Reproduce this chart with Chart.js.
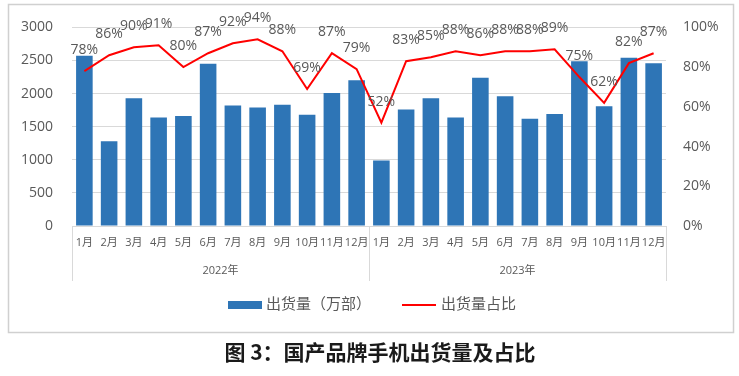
<!DOCTYPE html>
<html>
<head>
<meta charset="utf-8">
<script src="https://cdn.jsdelivr.net/npm/chart.js@4.4.1/dist/chart.umd.min.js"></script>
<style>
  body { margin: 0; background: #fff; }
  #wrap { width: 739px; height: 376px; }
</style>
</head>
<body>
<div id="wrap"><canvas id="shipChart" width="739" height="376"></canvas></div>
<script>
/* ---------- data ---------- */
const years = ['2022年', '2023年'];
const months = ['1月', '2月', '3月', '4月', '5月', '6月', '7月', '8月', '9月', '10月', '11月', '12月'];
// 出货量（万部）
const shipments = [2570, 1280, 1930, 1640, 1660, 2450, 1820, 1790, 1830, 1680, 2010, 2200,
                   990, 1760, 1930, 1640, 2240, 1960, 1620, 1690, 2490, 1810, 2540, 2460];
// 出货量占比 (%)
const shareValues = [78, 86, 90, 91, 80, 87, 92, 94, 88, 69, 87, 79,
                     52, 83, 85, 88, 86, 88, 88, 89, 75, 62, 82, 87];
const leftTicks = { min: 0, max: 3000, step: 500 };
const rightTicks = { min: 0, max: 100, step: 20 };
const legendNames = ['出货量（万部）', '出货量占比'];
const chartTitle = '图 3：国产品牌手机出货量及占比';

const labels = years.flatMap(() => months);

const GRAY_TEXT = '#595959';
const FONT = '"Open Sans", "Noto Sans CJK SC", sans-serif';
const BAR_BLUE = '#2E75B6';

/* ---------- extra drawing: labels, year groups, legend, title ---------- */
const decorations = {
    id: 'decorations',
    afterDatasetsDraw(chart) {
        const ctx = chart.ctx;
        const meta = chart.getDatasetMeta(1);
        ctx.save();
        ctx.font = '14px ' + FONT;
        ctx.fillStyle = GRAY_TEXT;
        ctx.textAlign = 'center';
        ctx.textBaseline = 'middle';
        meta.data.forEach((pt, i) => {
            ctx.fillText(shareValues[i] + '%', pt.x, pt.y - 21);
        });
        ctx.restore();
    },
    afterDraw(chart) {
        const ctx = chart.ctx;
        const area = chart.chartArea;
        const x = chart.scales.x;
        ctx.save();

        // outer frame
        ctx.strokeStyle = '#d0d0d0';
        ctx.lineWidth = 1.5;
        ctx.strokeRect(8.5, 4.5, 725, 328);

        // year group separators
        ctx.strokeStyle = '#d9d9d9';
        ctx.lineWidth = 1;
        const mid = (x.getPixelForValue(11) + x.getPixelForValue(12)) / 2;
        [area.left, mid, area.right].forEach(px => {
            ctx.beginPath();
            ctx.moveTo(Math.round(px) + 0.5, area.bottom);
            ctx.lineTo(Math.round(px) + 0.5, area.bottom + 55);
            ctx.stroke();
        });

        // year labels
        ctx.font = '11px ' + FONT;
        ctx.fillStyle = GRAY_TEXT;
        ctx.textAlign = 'center';
        ctx.textBaseline = 'middle';
        ctx.fillText(years[0], (area.left + mid) / 2, 271);
        ctx.fillText(years[1], (mid + area.right) / 2, 271);

        // legend
        const ly = 305;
        ctx.fillStyle = BAR_BLUE;
        ctx.fillRect(228, ly - 4, 34, 8);
        ctx.font = '15px ' + FONT;
        ctx.fillStyle = GRAY_TEXT;
        ctx.textAlign = 'left';
        ctx.fillText(legendNames[0], 266, ly);
        ctx.strokeStyle = '#FF0000';
        ctx.lineWidth = 2;
        ctx.beginPath();
        ctx.moveTo(402, ly);
        ctx.lineTo(436, ly);
        ctx.stroke();
        ctx.fillText(legendNames[1], 441, ly);

        // title
        ctx.font = 'bold 21px "Noto Sans CJK SC", sans-serif';
        ctx.fillStyle = '#1a1a1a';
        ctx.textAlign = 'center';
        ctx.fillText(chartTitle, 380, 352);
        ctx.restore();
    }
};

/* ---------- chart ---------- */
new Chart(document.getElementById('shipChart').getContext('2d'), {
    type: 'bar',
    data: {
        labels: labels,
        datasets: [{
            type: 'bar',
            label: legendNames[0],
            data: shipments,
            backgroundColor: BAR_BLUE,
            categoryPercentage: 1,
            barPercentage: 0.67,
            yAxisID: 'y',
            order: 2
        }, {
            type: 'line',
            label: legendNames[1],
            data: shareValues,
            borderColor: '#FF0000',
            borderWidth: 2,
            pointRadius: 0,
            tension: 0,
            yAxisID: 'y1',
            order: 1
        }]
    },
    options: {
        responsive: false,
        animation: false,
        layout: { padding: { top: 25, left: 0, right: 0, bottom: 0 } },
        plugins: {
            legend: { display: false },
            tooltip: { enabled: false }
        },
        scales: {
            x: {
                grid: { display: false, drawTicks: false },
                border: { display: true, color: '#d9d9d9' },
                ticks: {
                    color: GRAY_TEXT,
                    font: { size: 11, family: FONT },
                    autoSkip: false,
                    maxRotation: 0,
                    padding: 10
                },
                afterFit: s => { s.height = 150; }
            },
            y: {
                position: 'left',
                min: leftTicks.min,
                max: leftTicks.max,
                ticks: {
                    stepSize: leftTicks.step,
                    color: GRAY_TEXT,
                    font: { size: 14, family: FONT },
                    padding: 19,
                    callback: v => String(v)
                },
                grid: { color: '#d9d9d9', drawTicks: false },
                border: { display: false },
                afterFit: s => { s.width = 72; }
            },
            y1: {
                position: 'right',
                min: rightTicks.min,
                max: rightTicks.max,
                ticks: {
                    stepSize: rightTicks.step,
                    color: GRAY_TEXT,
                    font: { size: 14, family: FONT },
                    padding: 17,
                    callback: v => v + '%'
                },
                grid: { display: false, drawTicks: false },
                border: { display: false },
                afterFit: s => { s.width = 73; }
            }
        }
    },
    plugins: [decorations]
});
</script>
</body>
</html>
